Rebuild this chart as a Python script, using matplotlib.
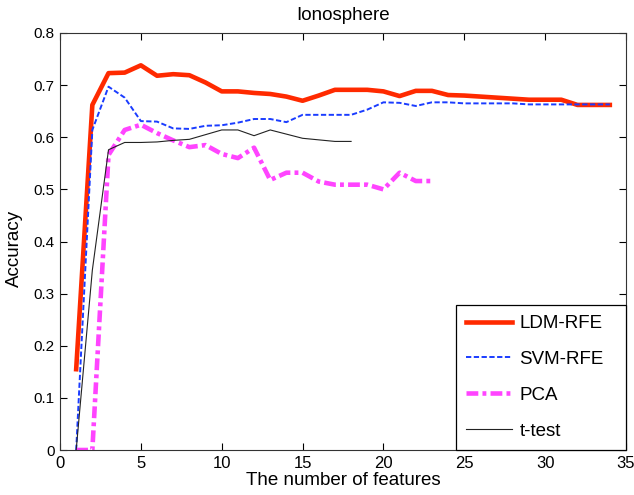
import matplotlib
matplotlib.use("Agg")
import matplotlib.pyplot as plt

plt.rcParams['font.family'] = ['Liberation Sans', 'DejaVu Sans']
plt.rcParams['lines.scale_dashes'] = False

title = "Ionosphere"
xlabel = "The number of features"
ylabel = "Accuracy"

ldm_x = list(range(1, 35))
ldm_y = [0.155, 0.662, 0.723, 0.724, 0.738, 0.718, 0.721, 0.719, 0.705, 0.688,
         0.688, 0.685, 0.683, 0.678, 0.670, 0.680, 0.691, 0.691, 0.691, 0.688,
         0.679, 0.689, 0.689, 0.681, 0.680, 0.678, 0.676, 0.674, 0.672, 0.672,
         0.672, 0.662, 0.662, 0.662]

svm_x = list(range(1, 35))
svm_y = [0.0, 0.614, 0.697, 0.676, 0.631, 0.630, 0.617, 0.616, 0.622, 0.623,
         0.628, 0.635, 0.635, 0.629, 0.643, 0.643, 0.643, 0.643, 0.653, 0.667,
         0.666, 0.660, 0.667, 0.667, 0.665, 0.665, 0.665, 0.665, 0.663, 0.663,
         0.663, 0.663, 0.663, 0.663]

pca_x = list(range(1, 24))
pca_y = [0.0, 0.0, 0.566, 0.614, 0.624, 0.608, 0.594, 0.581, 0.585, 0.568,
         0.560, 0.580, 0.518, 0.532, 0.532, 0.515, 0.509, 0.509, 0.509, 0.500,
         0.532, 0.516, 0.516]

tt_x = list(range(1, 19))
tt_y = [0.0, 0.345, 0.576, 0.590, 0.590, 0.591, 0.594, 0.596, 0.605, 0.614,
        0.614, 0.603, 0.614, 0.606, 0.598, 0.595, 0.592, 0.592]

xticks = [0, 5, 10, 15, 20, 25, 30, 35]
yticks = [0, 0.1, 0.2, 0.3, 0.4, 0.5, 0.6, 0.7, 0.8]
yticklabels = ["0", "0.1", "0.2", "0.3", "0.4", "0.5", "0.6", "0.7", "0.8"]

fig = plt.figure(figsize=(6.34, 4.95), dpi=100)
ax = fig.add_axes([60/634, 1-450/495, 566/634, 417/495])

ax.plot(ldm_x, ldm_y, color='#ff2a00', lw=3.3, solid_joinstyle='round', label='LDM-RFE')
ax.plot(svm_x, svm_y, color='#1a3cff', lw=1.4, linestyle=(0, (3.8, 1.8)), label='SVM-RFE')
ax.plot(pca_x, pca_y, color='#ff44ff', lw=3.3, linestyle=(0, (8.5, 3.0, 2.8, 3.0)),
        dash_capstyle='butt', label='PCA')
ax.plot(tt_x, tt_y, color='#222222', lw=0.8, label='t-test')

ax.set_xlim(0, 35)
ax.set_ylim(0, 0.8)
ax.set_xticks(xticks)
ax.set_yticks(yticks)
ax.set_yticklabels(yticklabels)
ax.tick_params(direction='in', top=True, right=True, length=5, width=0.8,
               colors='black', pad=4)
ax.tick_params(axis='x', labelsize=12)
ax.tick_params(axis='y', labelsize=11)
for s in ax.spines.values():
    s.set_linewidth(0.8)
    s.set_color('#333333')

ax.set_title(title, fontsize=13.5, pad=9)
ax.set_xlabel(xlabel, fontsize=13.5, labelpad=1)
ax.set_ylabel(ylabel, fontsize=13.5, labelpad=6)
ax.yaxis.set_label_coords(-0.066, 0.483)

leg_x0 = (456 - 60) / 566
leg = ax.legend(loc='lower left', bbox_to_anchor=(leg_x0, 0, 1 - leg_x0, 0.3),
                mode='expand', borderaxespad=0, fancybox=False, framealpha=1,
                edgecolor='black', fontsize=13.5, handlelength=2.45, handletextpad=0.38,
                labelspacing=1.0, borderpad=0.55)
leg.get_frame().set_linewidth(0.9)

fig.savefig('out.png', dpi=100, facecolor='white')
